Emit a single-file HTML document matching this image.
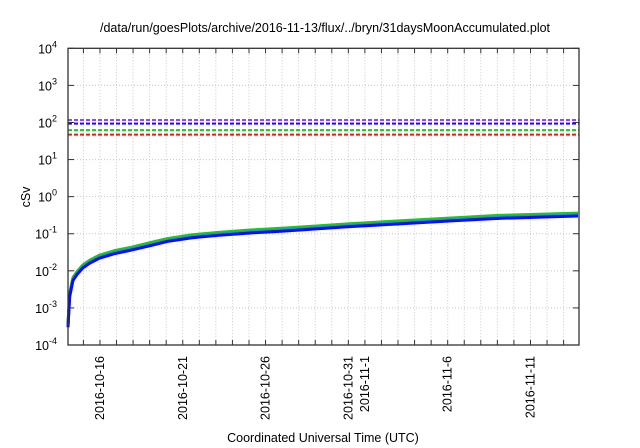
<!DOCTYPE html>
<html><head><meta charset="utf-8"><style>
body{margin:0;background:#fff;}
svg{display:block;font-family:"Liberation Sans",sans-serif;}
</style></head><body>
<svg id="chart" width="640" height="448" viewBox="0 0 640 448">
<text x="325" y="32" text-anchor="middle" font-size="12.5" fill="#000">/data/run/goesPlots/archive/2016-11-13/flux/../bryn/31daysMoonAccumulated.plot</text>
<text transform="translate(30,197) rotate(-90)" text-anchor="middle" font-size="12.5">cSv</text>
<text x="323" y="442" text-anchor="middle" font-size="12.5">Coordinated Universal Time (UTC)</text>
<g id="grid"></g><g id="thr"></g><g id="series"></g><g id="axes"></g>
</svg>
<script>
// data (day offsets from 2016-10-14 02:00 UTC)
const tickDays = [1.93,6.93,11.93,16.93,17.93,22.93,27.93];
const tickLabels = ["2016-10-16","2016-10-21","2016-10-26","2016-10-31","2016-11-1","2016-11-6","2016-11-11"];
const yDecades = [-4,-3,-2,-1,0,1,2,3,4];
const thresholdValues = [117,93,62,47];
const thresholdColors = ["#a040ff","#1010ff","#10d010","#ff1010"];
const days = [0,0.1,0.3,0.55,0.9,1.3,1.9,2.8,3.8,5,6,7.5,9,11,13,15,17,20,23,26,30.8];
const doseBlue = [3e-4,2e-3,5.5e-3,8e-3,1.2e-2,1.6e-2,2.2e-2,2.9e-2,3.6e-2,4.8e-2,6.2e-2,7.8e-2,9e-2,0.105,0.118,0.135,0.155,0.185,0.22,0.26,0.30];
const doseRed = [3.6e-4,2.4e-3,6.4e-3,9.3e-3,1.4e-2,1.85e-2,2.55e-2,3.35e-2,4.15e-2,5.5e-2,7.1e-2,9e-2,0.104,0.121,0.136,0.155,0.178,0.213,0.253,0.30,0.345];
const doseGreen = [3.7e-4,2.5e-3,6.6e-3,9.6e-3,1.45e-2,1.92e-2,2.65e-2,3.5e-2,4.3e-2,5.8e-2,7.4e-2,9.4e-2,0.108,0.126,0.142,0.162,0.186,0.222,0.264,0.312,0.36];
const doseCyan = [3.2e-4,2.15e-3,5.9e-3,8.5e-3,1.28e-2,1.7e-2,2.35e-2,3.1e-2,3.85e-2,5.1e-2,6.6e-2,8.3e-2,9.6e-2,0.112,0.126,0.144,0.165,0.197,0.234,0.277,0.32];

const L=68,R=579,T=48.3,B=345,XMAX=30.86;
const X=d=>L+(R-L)*d/XMAX;
const Y=v=>T+(4-Math.log10(v))*(B-T)/8;
const NS="http://www.w3.org/2000/svg";
function mk(tag,parent,attrs){const e=document.createElementNS(NS,tag);for(const k in attrs)e.setAttribute(k,attrs[k]);document.getElementById(parent).appendChild(e);return e;}
// grid
for(let d=Math.ceil(-0.07);d<=30;d++){const x=X(d+0.93);if(x<=L+1||x>=R-1)continue;
 const g=mk("line","grid",{x1:x,x2:x,y1:T,y2:B,stroke:"#c8c8c8","stroke-width":1,"stroke-dasharray":"1,2"});
 
 
 const t1=mk("line","axes",{x1:x,x2:x,y1:B,y2:B-5,stroke:"#333"});
 
 
 const t2=mk("line","axes",{x1:x,x2:x,y1:T,y2:T+5,stroke:"#333"});
 
 }
yDecades.forEach(p=>{const y=Y(Math.pow(10,p));
 if(p>-4&&p<4){const g=mk("line","grid",{x1:L,x2:R,y1:y,y2:y,stroke:"#c8c8c8","stroke-width":1,"stroke-dasharray":"1,2"});
 
 }
 const t=mk("line","axes",{x1:L,x2:L+6,y1:y,y2:y,stroke:"#333"});
 
 
 const t2=mk("line","axes",{x1:R,x2:R-6,y1:y,y2:y,stroke:"#333"});
 
 
 const lb=mk("text","axes",{x:57,y:y+5,"text-anchor":"end","font-size":"12.5"});
 
 
 lb.innerHTML='10<tspan dy="-6" font-size="9">'+p+'</tspan>';});
tickDays.forEach((d,i)=>{const x=X(d);
 const lb=mk("text","axes",{transform:`translate(${x+4},${B+11}) rotate(-90)`,"text-anchor":"end","font-size":"12.5"});
 
 
 lb.textContent=tickLabels[i];});
const fr=mk("rect","axes",{x:L,y:T,width:R-L,height:B-T,fill:"none",stroke:"#333","stroke-width":1.3});


// thresholds
thresholdValues.forEach((v,i)=>{const y=Y(v);
 const l=mk("line","thr",{x1:L,x2:R,y1:y,y2:y,stroke:thresholdColors[i],"stroke-width":2,"stroke-dasharray":"4,2"});
 
 });
// series
[[doseRed,"#ff2020"],[doseGreen,"#10d010"],[doseCyan,"#3080ff"],[doseBlue,"#0a0aff"]].forEach(([arr,c])=>{
 const p=mk("polyline","series",{points:arr.map((v,i)=>X(days[i])+","+Y(v)).join(" "),fill:"none",stroke:c,"stroke-width":3,"stroke-linejoin":"round"});
 
 });
</script>
</body></html>
